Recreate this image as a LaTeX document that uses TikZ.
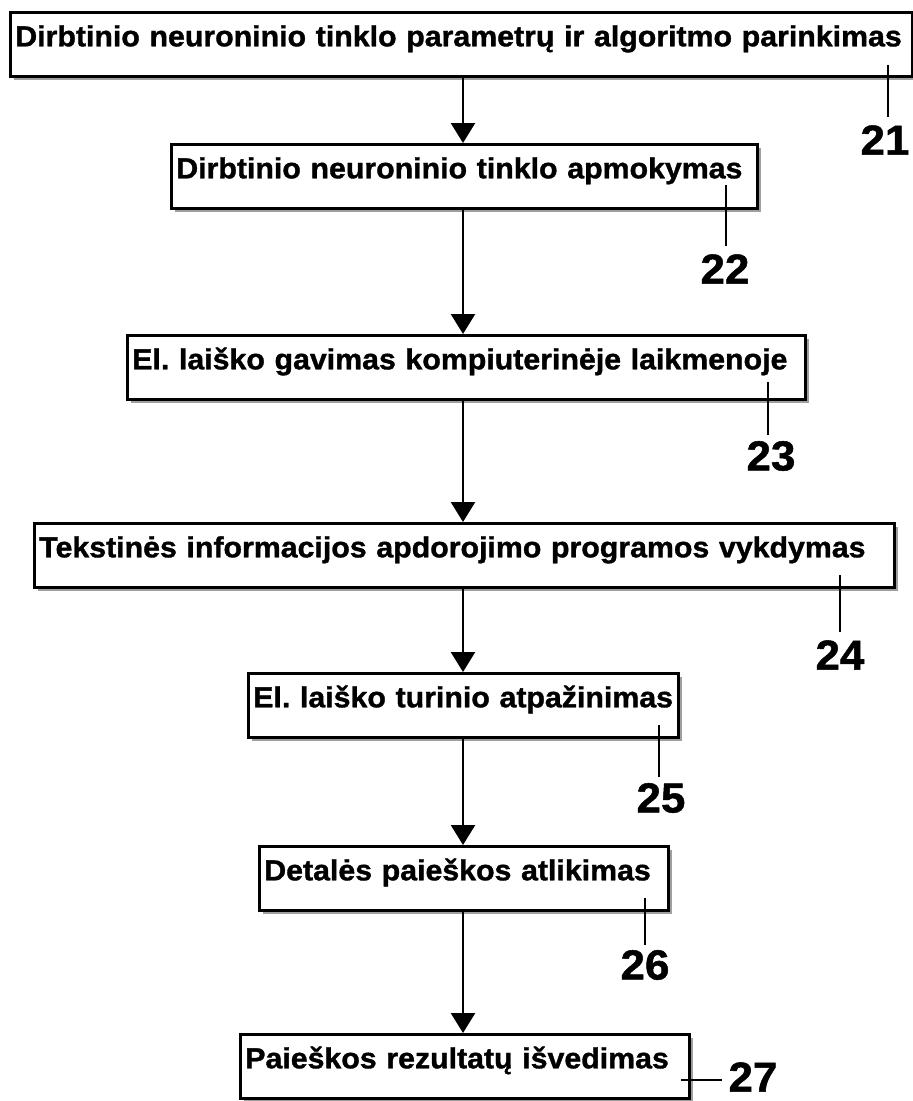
\documentclass[tikz,border=0pt]{standalone}
\usepackage{fontspec}
\newfontfamily\diagfont{Liberation Sans}[FakeStretch=1.045,BoldFeatures={FakeBold=1.2}]
\usetikzlibrary{arrows.meta,shadows}
\frenchspacing
\begin{document}
\begin{tikzpicture}[x=1pt,y=-1pt,
  stepbox/.style={draw=black, line width=2.6pt, fill=white, anchor=north west,
    inner xsep=5pt, inner ysep=0pt, text height=34pt, text depth=30pt, align=left,
    font=\diagfont\bfseries\fontsize{29}{30}\selectfont,
    drop shadow={shadow xshift=4pt, shadow yshift=-4pt, fill=gray!75, opacity=1}},
  flow/.style={line width=2.5pt, -{Triangle[width=24pt,length=20pt]}},
  leader/.style={line width=2pt},
  refnum/.style={font=\diagfont\bfseries\fontsize{42}{42}\selectfont, inner sep=0pt}]
\useasboundingbox (0,0) rectangle (913,1101);
\fill[white] (0,0) rectangle (913,1101);

\node[stepbox, text width=892pt] (b1) at (9,11) {\mbox{Dirbtinio neuroninio tinklo parametrų ir algoritmo parinkimas}};
\node[stepbox, text width=576pt] (b2) at (170,143) {\mbox{Dirbtinio neuroninio tinklo apmokymas}};
\node[stepbox, text width=668pt] (b3) at (126,334) {\mbox{El. laiško gavimas kompiuterinėje laikmenoje}};
\node[stepbox, text width=850pt] (b4) at (33,522) {\mbox{Tekstinės informacijos apdorojimo programos vykdymas}};
\node[stepbox, text width=420pt] (b5) at (247,672) {\mbox{El. laiško turinio atpažinimas}};
\node[stepbox, text width=399pt] (b6) at (258,845) {\mbox{Detalės paieškos atlikimas}};
\node[stepbox, text width=439pt] (b7) at (239,1033) {\mbox{Paieškos rezultatų išvedimas}};

\coordinate (ax) at (463,0);
\draw[flow] (b1.south -| ax) -- (b2.north -| ax);
\draw[flow] (b2.south -| ax) -- (b3.north -| ax);
\draw[flow] (b3.south -| ax) -- (b4.north -| ax);
\draw[flow] (b4.south -| ax) -- (b5.north -| ax);
\draw[flow] (b5.south -| ax) -- (b6.north -| ax);
\draw[flow] (b6.south -| ax) -- (b7.north -| ax);

\node[refnum] (n21) at (885,140) {21};
\node[refnum] (n22) at (725,269) {22};
\node[refnum] (n23) at (771,456) {23};
\node[refnum] (n24) at (840,655) {24};
\node[refnum] (n25) at (661,798) {25};
\node[refnum] (n26) at (645,965) {26};
\node[refnum] (n27) at (753,1077) {27};

\coordinate (l21) at (888,65);
\coordinate (l22) at (726,185);
\coordinate (l23) at (768,382);
\coordinate (l24) at (840,575);
\coordinate (l25) at (659,725);
\coordinate (l26) at (645,898);
\coordinate (l27) at (681,1080);

\draw[leader] (l21) -- ([yshift=8pt]n21.north -| l21);
\draw[leader] (l22) -- ([yshift=8pt]n22.north -| l22);
\draw[leader] (l23) -- ([yshift=6pt]n23.north -| l23);
\draw[leader] (l24) -- ([yshift=8pt]n24.north -| l24);
\draw[leader] (l25) -- ([yshift=6pt]n25.north -| l25);
\draw[leader] (l26) -- ([yshift=5pt]n26.north -| l26);
\draw[leader] (l27) -- ([xshift=-6pt]n27.west |- l27);
\end{tikzpicture}
\end{document}
